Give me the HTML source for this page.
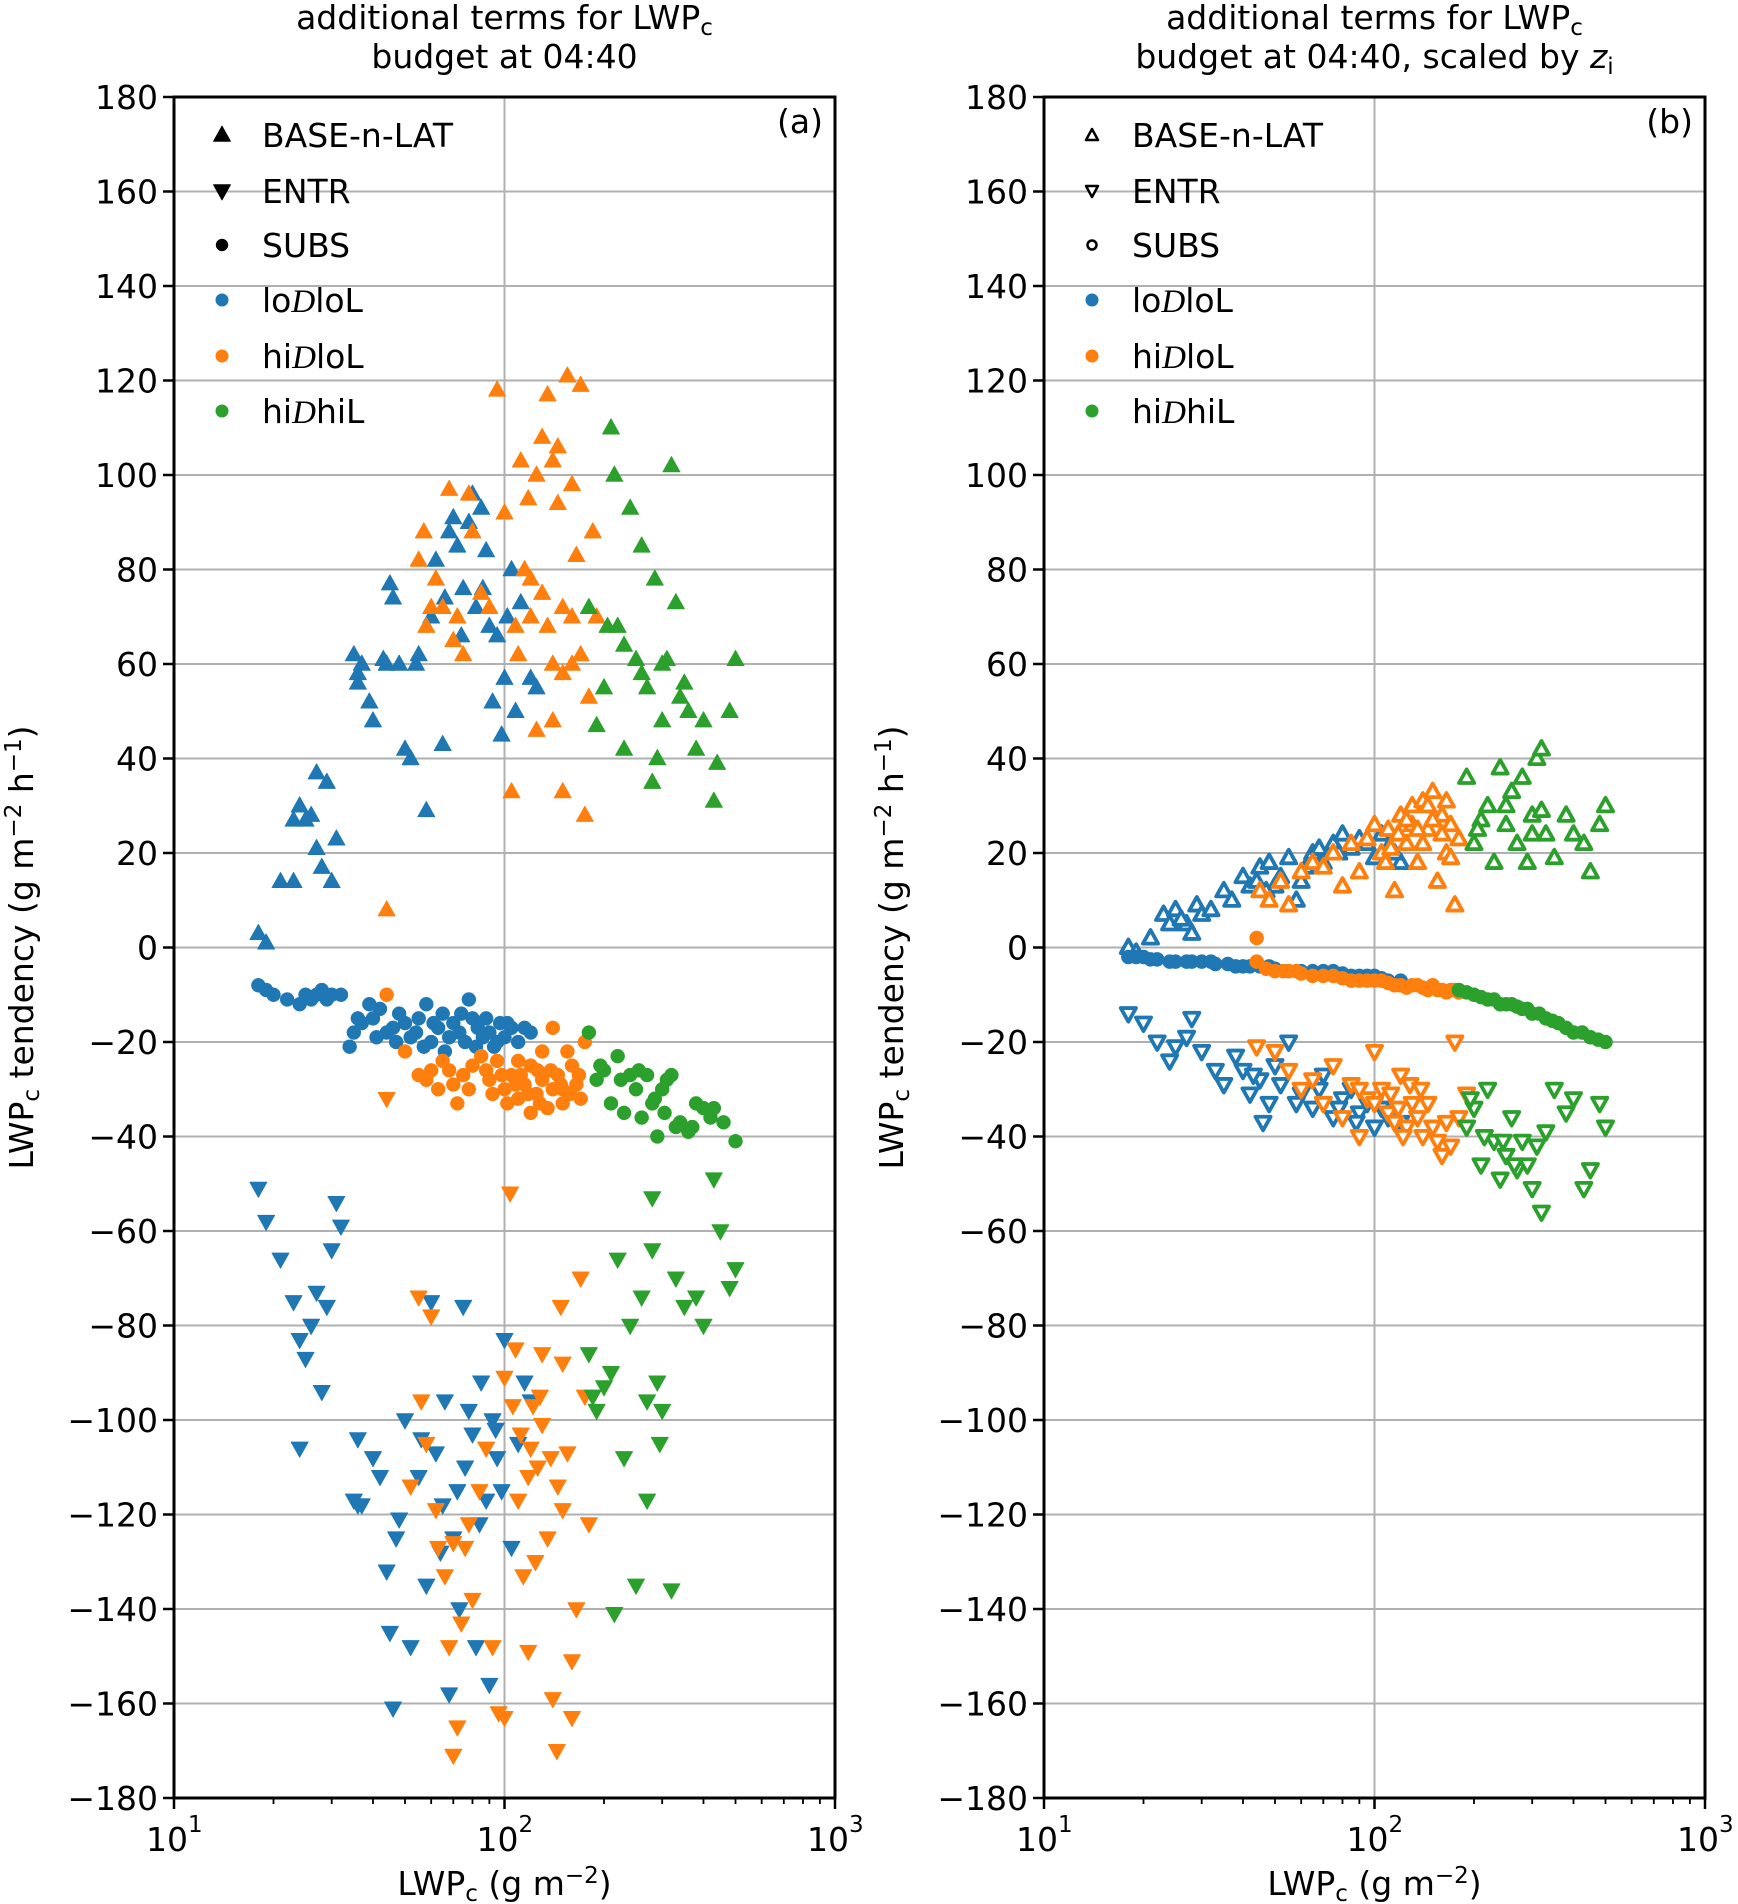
<!DOCTYPE html>
<html><head><meta charset="utf-8"><style>
html,body{margin:0;padding:0;background:#fff}
svg{display:block;font-family:"DejaVu Sans","Liberation Sans",sans-serif}
</style></head><body>
<svg id="chart" width="1738" height="1904" viewBox="0 0 1738 1904" xmlns="http://www.w3.org/2000/svg"></svg>
<script>
const yTicks=[180,160,140,120,100,80,60,40,20,0,-20,-40,-60,-80,-100,-120,-140,-160,-180];
const xTickExp=[1,2,3];
const legendLabels=["BASE-n-LAT","ENTR","SUBS"];
const groupLabels=["lo","hi","hi"];
const groupSuffix=["loL","loL","hiL"];
const colors=["#1f77b4","#ff7f0e","#2ca02c"];

// Panel (a)
const aBaseBlue=[[18,3],[19,1],[21,14],[23,27],[24,30],[23,14],[25,27],[26,28],[27,37],[27,21],[28,17],[29,35],[30,14],[31,23],[35,62],[36,56],[37,60],[39,52],[40,48],[43,61],[45,77],[46,74],[48,60],[50,42],[52,40],[55,62],[58,29],[60,70],[62,82],[65,43],[68,88],[72,85],[75,76],[78,90],[80,96],[82,72],[85,93],[88,84],[90,68],[95,66],[98,45],[100,57],[105,80],[108,50],[112,73],[120,57],[125,55],[36,58],[44,60],[54,60],[66,74],[74,66],[86,76],[92,52],[70,91],[102,70]];
const aBaseOrange=[[44,8],[55,82],[57,88],[58,68],[62,78],[65,72],[68,97],[70,65],[75,62],[78,96],[80,88],[85,75],[90,72],[95,118],[100,92],[105,33],[108,68],[112,103],[118,95],[120,78],[125,100],[130,108],[135,117],[140,60],[145,94],[150,33],[155,121],[160,70],[165,83],[170,119],[175,28],[180,53],[185,88],[190,70],[125,46],[140,48],[150,58],[130,75],[115,80],[160,98],[170,62],[60,72],[72,70],[110,62],[120,70],[135,68],[145,106],[150,72],[160,60],[140,103]];
const aBaseGreen=[[180,72],[190,47],[200,55],[210,110],[215,100],[220,68],[230,42],[240,93],[250,61],[260,85],[270,55],[280,35],[285,78],[290,40],[300,48],[310,61],[320,102],[330,73],[340,53],[360,50],[380,42],[400,48],[430,31],[440,39],[480,50],[500,61],[230,64],[260,58],[205,68],[300,60],[350,56]];
const aSubsBlue=[[18,-8],[19,-9],[20,-10],[22,-11],[24,-12],[25,-10],[26,-11],[27,-10],[28,-9],[29,-11],[30,-10],[32,-10],[34,-21],[35,-18],[37,-16],[40,-15],[42,-13],[44,-18],[46,-17],[48,-14],[50,-16],[52,-19],[55,-15],[58,-12],[60,-20],[63,-17],[66,-22],[70,-16],[73,-18],[76,-20],[80,-15],[83,-17],[86,-19],[90,-18],[93,-21],[97,-16],[100,-19],[105,-17],[110,-20],[115,-17],[120,-18],[78,-11],[65,-14],[36,-15],[41,-19],[47,-20],[54,-18],[61,-16],[68,-19],[74,-14],[82,-21],[88,-15],[95,-20],[102,-16],[39,-12],[57,-21]];
const aSubsOrange=[[44,-10],[50,-22],[55,-27],[60,-26],[65,-24],[70,-29],[72,-33],[75,-27],[80,-25],[85,-23],[90,-28],[95,-24],[100,-30],[105,-27],[110,-32],[115,-29],[120,-25],[125,-31],[130,-28],[135,-34],[140,-30],[145,-27],[150,-33],[155,-22],[160,-25],[165,-29],[170,-32],[175,-20],[140,-17],[110,-24],[130,-22],[150,-30],[120,-35],[58,-28],[63,-30],[68,-26],[78,-30],[88,-26],[98,-27],[108,-29],[118,-31],[128,-33],[138,-26],[148,-29],[158,-31],[168,-27],[102,-33],[126,-26],[92,-31],[112,-27]];
const aSubsGreen=[[180,-18],[190,-28],[200,-26],[210,-33],[220,-23],[230,-35],[240,-27],[250,-30],[260,-36],[270,-27],[280,-33],[290,-40],[300,-30],[310,-28],[320,-27],[340,-37],[360,-39],[380,-33],[400,-34],[430,-34],[460,-37],[500,-41],[195,-25],[225,-28],[255,-26],[285,-32],[305,-35],[330,-38],[370,-38],[420,-36]];
const aEntrBlue=[[18,-51],[19,-58],[21,-66],[23,-75],[24,-83],[24,-106],[25,-87],[26,-80],[27,-73],[28,-94],[29,-76],[30,-64],[31,-54],[32,-59],[35,-117],[36,-104],[37,-118],[40,-108],[42,-112],[44,-132],[45,-145],[46,-161],[47,-125],[48,-121],[50,-100],[52,-148],[55,-112],[58,-135],[60,-75],[62,-107],[65,-118],[68,-158],[70,-125],[73,-140],[75,-76],[78,-98],[80,-103],[82,-148],[85,-92],[88,-117],[90,-156],[92,-100],[95,-108],[98,-115],[100,-83],[105,-127],[110,-105],[115,-92],[120,-96],[36,-118],[56,-104],[66,-96],[72,-115],[84,-122],[76,-110],[64,-128],[94,-102]];
const aEntrOrange=[[44,-32],[52,-114],[55,-74],[56,-96],[58,-105],[60,-78],[62,-119],[63,-127],[66,-133],[68,-148],[70,-171],[72,-165],[74,-143],[76,-127],[78,-122],[80,-138],[84,-115],[88,-106],[92,-148],[96,-162],[100,-163],[104,-52],[106,-97],[110,-117],[114,-133],[118,-149],[122,-97],[126,-110],[130,-101],[135,-125],[140,-159],[144,-170],[148,-76],[150,-119],[155,-107],[160,-163],[165,-140],[170,-70],[175,-95],[180,-122],[130,-86],[160,-151],[120,-106],[100,-91],[112,-103],[118,-112],[128,-95],[138,-108],[145,-114],[150,-88],[108,-85],[124,-130],[70,-126]];
const aEntrGreen=[[180,-86],[190,-98],[200,-93],[210,-90],[215,-141],[220,-66],[230,-108],[240,-80],[250,-135],[260,-74],[270,-117],[280,-53],[290,-92],[295,-105],[300,-98],[320,-136],[330,-70],[350,-76],[380,-74],[400,-80],[430,-49],[450,-60],[500,-68],[480,-72],[185,-95],[270,-96],[280,-64]];

// Panel (b)
const bBaseBlue=[[18,0],[19,-1],[21,2],[23,7],[24,5],[25,8],[27,5],[28,3],[29,9],[30,7],[35,12],[37,10],[40,15],[42,13],[45,17],[48,18],[50,13],[52,15],[55,19],[58,10],[60,14],[65,20],[70,18],[75,22],[80,24],[85,21],[90,23],[100,19],[110,21],[120,18],[26,6],[32,8],[44,14],[47,12],[62,17],[68,21],[78,20],[95,22],[105,24],[115,20]];
const bBaseOrange=[[45,12],[48,10],[52,14],[55,9],[60,16],[65,18],[70,17],[75,20],[80,13],[85,22],[90,16],[95,23],[100,26],[105,20],[110,25],[115,12],[120,28],[125,22],[130,30],[135,18],[140,31],[145,25],[150,33],[155,14],[160,28],[165,20],[170,26],[175,9],[180,23],[130,26],[145,30],[112,21],[118,24],[125,27],[135,25],[140,22],[150,27],[160,24],[165,31],[170,19],[108,18]];
const bBaseGreen=[[190,36],[200,22],[210,27],[220,30],[230,18],[240,38],[250,26],[260,33],[270,22],[280,36],[290,18],[300,28],[310,40],[320,42],[330,24],[350,19],[380,28],[400,24],[430,22],[450,16],[480,26],[500,30],[205,25],[250,30],[300,24],[320,29]];
const bSubsBlue=[[18,-2],[20,-2],[22,-2.5],[25,-3],[28,-3],[30,-3],[33,-3.5],[36,-3.5],[40,-4],[45,-4],[50,-4.5],[55,-5],[60,-5],[70,-5],[80,-5.5],[90,-6],[100,-6],[110,-7],[120,-7],[19,-2],[21,-2.5],[24,-3],[27,-3],[32,-3],[38,-4],[42,-4],[48,-4],[65,-5],[75,-5],[85,-6],[95,-6],[105,-6.5]];
const bSubsOrange=[[44,2],[44,-3],[50,-5],[55,-5],[60,-5.5],[70,-6],[80,-6.5],[90,-7],[100,-7],[110,-7.5],[120,-8],[130,-8],[140,-8.5],[150,-8],[160,-9],[170,-9],[180,-9.5],[47,-4.5],[53,-5],[58,-5],[65,-6],[75,-6],[85,-7],[95,-7],[105,-7],[115,-8],[125,-8.5],[135,-8],[145,-9],[155,-9],[165,-9.5],[175,-9]];
const bSubsGreen=[[180,-9],[200,-10],[220,-11],[240,-12],[260,-12],[280,-13],[300,-14],[330,-15],[360,-16],[400,-18],[450,-19],[500,-20],[190,-9.5],[210,-10.5],[230,-11],[250,-12],[270,-12.5],[290,-13],[315,-14],[345,-15.5],[380,-17],[425,-18],[475,-19.5]];
const bEntrBlue=[[18,-14],[20,-16],[22,-20],[24,-24],[25,-21],[27,-19],[28,-15],[30,-22],[33,-26],[35,-29],[38,-23],[40,-26],[42,-31],[45,-28],[46,-37],[48,-33],[50,-25],[55,-20],[60,-31],[65,-34],[70,-27],[75,-36],[80,-32],[85,-30],[90,-35],[95,-33],[100,-38],[110,-36],[120,-37],[43,-27],[52,-29],[58,-33],[68,-30],[78,-34],[88,-37],[105,-34]];
const bEntrOrange=[[44,-21],[50,-22],[55,-26],[60,-30],[65,-28],[70,-33],[75,-25],[80,-36],[85,-29],[90,-40],[95,-32],[100,-22],[105,-30],[110,-35],[115,-37],[120,-27],[130,-33],[140,-40],[150,-38],[160,-44],[170,-42],[175,-20],[180,-36],[190,-31],[112,-31],[118,-34],[125,-38],[128,-29],[135,-36],[145,-33],[155,-41],[165,-37],[122,-40],[138,-30],[100,-33],[90,-30]];
const bEntrGreen=[[190,-38],[200,-34],[210,-46],[220,-30],[230,-41],[240,-49],[250,-44],[260,-36],[270,-47],[280,-41],[300,-51],[310,-42],[320,-56],[330,-39],[350,-30],[380,-35],[400,-32],[430,-51],[450,-47],[480,-33],[500,-38],[195,-32],[215,-40],[245,-41],[265,-46],[290,-46]];

const NS="http://www.w3.org/2000/svg";
const svg=document.getElementById('chart');
function mk(tag,attrs,parent,text){const e=document.createElementNS(NS,tag);for(const k in attrs)e.setAttribute(k,attrs[k]);if(text!==undefined)e.textContent=text;(parent||svg).appendChild(e);return e;}
const TOP=97,BOT=1798;
function yS(v){return TOP+(180-v)/360*(BOT-TOP);}
function mkX(L,R){return v=>L+(Math.log10(v)-1)/2*(R-L);}

function triUp(g,x,y,c,open){const s=open?8:9;return mk('polygon',{points:`${x},${y-s} ${x-s*0.95},${y+s*0.7} ${x+s*0.95},${y+s*0.7}`,fill:open?'#fff':c,stroke:c,'stroke-width':open?3.8:0.8,'stroke-linejoin':'round'},g);}
function triDn(g,x,y,c,open){const s=open?8:9;return mk('polygon',{points:`${x},${y+s} ${x-s*0.95},${y-s*0.7} ${x+s*0.95},${y-s*0.7}`,fill:open?'#fff':c,stroke:c,'stroke-width':open?3.8:0.8,'stroke-linejoin':'round'},g);}
function circ(g,x,y,c,open){return mk('circle',{cx:x,cy:y,r:open?6:7,fill:c,stroke:c,'stroke-width':open?2.5:0.5},g);}

function panel(id,L,R,title2sub,label,data,open){
  const X=mkX(L,R);
  const g=mk('g',{});
  
  
  yTicks.forEach(v=>{const l=mk('line',{x1:L,x2:R,y1:yS(v),y2:yS(v),stroke:'#b0b0b0','stroke-width':2},g);});
  const vg=mk('line',{x1:X(100),x2:X(100),y1:TOP,y2:BOT,stroke:'#b0b0b0','stroke-width':2},g);
  
  const shapes=[triUp,triDn,circ];
  data.forEach((series,si)=>{series.forEach((pts,ci)=>{
    const sg=mk('g',{},g);
    
    
    pts.forEach(p=>{const m=shapes[si](sg,X(p[0]),yS(p[1]),colors[ci],open);});
  });});
  const fr=mk('rect',{x:L,y:TOP,width:R-L,height:BOT-TOP,fill:'none',stroke:'#000','stroke-width':3},g);
  
  yTicks.forEach(v=>{
    mk('line',{x1:L-11,x2:L,y1:yS(v),y2:yS(v),stroke:'#000','stroke-width':2.5},g);
    const t=mk('text',{x:L-16,y:yS(v)+12,'text-anchor':'end','font-size':33},g,(v<0?'\u2212'+(-v):String(v)));
    
  });
  xTickExp.forEach(e=>{
    const x=X(Math.pow(10,e));
    mk('line',{x1:x,x2:x,y1:BOT,y2:BOT+11,stroke:'#000','stroke-width':2.5},g);
    const t=mk('text',{x:x-7,y:BOT+53,'text-anchor':'middle','font-size':33},g,'10');
    
    mk('text',{x:x+14,y:BOT+34,'font-size':23},g,String(e));
  });
  for(let d=1;d<=2;d++)for(let k=2;k<=9;k++){const x=X(k*Math.pow(10,d));mk('line',{x1:x,x2:x,y1:BOT,y2:BOT+6,stroke:'#000','stroke-width':1.8},g);}
  const xl=mk('text',{x:(L+R)/2,y:1895,'text-anchor':'middle','font-size':33},g);
  
  xl.innerHTML='LWP<tspan font-size="23" dy="6">c</tspan><tspan dy="-6"> (g m</tspan><tspan font-size="23" dy="-12">\u22122</tspan><tspan dy="12">)</tspan>';
  const yl=mk('text',{transform:`translate(${L-141},${(TOP+BOT)/2}) rotate(-90)`,'text-anchor':'middle','font-size':33},g);
  
  yl.innerHTML='LWP<tspan font-size="23" dy="6">c</tspan><tspan dy="-6"> tendency (g m</tspan><tspan font-size="23" dy="-12">\u22122</tspan><tspan dy="12"> h</tspan><tspan font-size="23" dy="-12">\u22121</tspan><tspan dy="12">)</tspan>';
  const t1=mk('text',{x:(L+R)/2,y:29,'text-anchor':'middle','font-size':33},g);
  
  t1.innerHTML='additional terms for LWP<tspan font-size="23" dy="6">c</tspan>';
  const t2=mk('text',{x:(L+R)/2,y:68,'text-anchor':'middle','font-size':33},g);
  
  t2.innerHTML=title2sub;
  const pl=mk('text',{x:R-12,y:133,'text-anchor':'end','font-size':33},g,label);
  
  const lg=mk('g',{},g);
  
  const rows=[135,191,245,300,356,411];
  const mx=L+48,tx=L+88;
  rows.forEach((ry,i)=>{
    const e=mk('g',{},lg);
    
    if(i<3){
      if(i===2) mk('circle',{cx:mx,cy:ry,r:open?4.5:6,fill:open?'#fff':'#000',stroke:'#000','stroke-width':open?2.5:0.5},e);
      else if(open) mk('polygon',{points:i===0?`${mx},${ry-6} ${mx-6},${ry+5} ${mx+6},${ry+5}`:`${mx},${ry+6} ${mx-6},${ry-5} ${mx+6},${ry-5}`,fill:'#fff',stroke:'#000','stroke-width':2.5,'stroke-linejoin':'round'},e);
      else [triUp,triDn][i](e,mx,ry,'#000',false);
      mk('text',{x:tx,y:ry+12,'font-size':33},e,legendLabels[i]);
    } else {
      const ci=i-3;
      mk('circle',{cx:mx,cy:ry,r:6.5,fill:colors[ci]},e);
      const t=mk('text',{x:tx,y:ry+12,'font-size':33},e);
      t.innerHTML=groupLabels[ci]+'<tspan font-family="Liberation Serif, serif" font-style="italic">D</tspan>'+groupSuffix[ci];
    }
  });
}
panel('a',174,835,'budget at 04:40','(a)',
 [[aBaseBlue,aBaseOrange,aBaseGreen],[aEntrBlue,aEntrOrange,aEntrGreen],[aSubsBlue,aSubsOrange,aSubsGreen]],false);
panel('b',1044,1705,'budget at 04:40, scaled by <tspan font-style="italic">z</tspan><tspan font-size="23" dy="6">i</tspan>','(b)',
 [[bBaseBlue,bBaseOrange,bBaseGreen],[bEntrBlue,bEntrOrange,bEntrGreen],[bSubsBlue,bSubsOrange,bSubsGreen]],true);
</script>
</body></html>
